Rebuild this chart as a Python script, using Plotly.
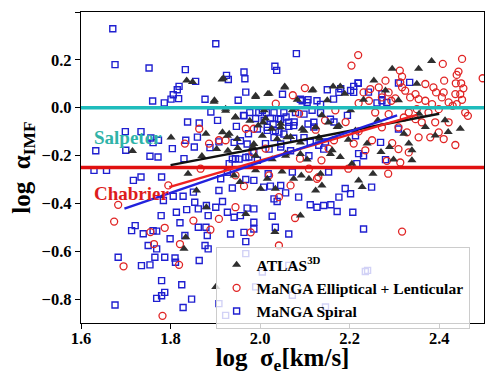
import plotly.graph_objects as go

# ---------------- data ----------------
spiral_x = [1.633,1.671,1.676,1.699,1.700,1.734,1.752,1.754,1.756,1.760,1.761,1.772,1.773,1.786,1.801,1.804,1.806,1.815,1.818,1.819,
            1.830,1.833,1.834,1.838,1.853,1.856,1.860,1.864,1.877,1.888,1.890,1.901,1.905,1.908,1.925,1.929,1.931,1.945,1.947,1.951,
            1.963,1.964,1.966,1.968,1.974,1.975,1.994,2.005,2.009,2.012,2.016,2.031,2.033,2.037,2.041,2.042,2.046,2.050,2.058,2.064,
            2.076,2.081,2.090,2.098,2.107,2.116,2.120,2.131,2.135,2.146,2.150,2.165,2.180,2.195,2.202,2.209,2.216,2.219,2.220,2.242,
            2.261,2.272,2.280,2.309,
            1.964,1.977,1.990,1.997,2.014,2.023,2.031,2.029,2.046,2.053,2.064,2.075,2.079,2.098,2.107,2.120,2.135,1.994,2.016,2.034,
            2.053,1.942,1.956,1.971,1.938,1.953,1.968,1.986,2.020,2.046,2.068,2.075,2.112,2.142,2.109,2.157,2.176,2.164,2.094,2.105,2.127,
            2.219,2.209,2.334,2.272,2.283,2.309,2.269,2.213,2.231,
            2.202,2.207,2.231,2.249,2.235,
            1.629,1.657,1.717,1.734,1.780,1.784,1.806,1.828,1.851,1.854,1.862,1.880,1.884,1.813,1.836,1.779,1.821,1.721,1.713,1.739,
            1.761,1.769,1.799,1.750,1.769,1.832,1.862,1.879,1.882,1.877,1.884,1.683,1.735,1.754,1.765,1.787,1.810,1.811,1.864,1.780,
            1.825,1.787,1.780,1.769,1.847,1.676,1.828,
            1.908,1.916,1.938,1.968,1.986,2.008,2.023,2.046,2.057,2.031,2.038,2.086,2.112,2.127,2.142,2.158,2.172,2.176,1.927,1.942,
            1.956,1.971,1.986,2.027,1.986,1.986,2.034,2.064,1.934,1.964,1.968,1.901,1.927,1.912,2.018,2.072,2.153,2.190,
            1.908,1.968,1.990,2.005,2.064,2.072,2.146,2.240,1.923]
spiral_y = [-0.180,0.330,0.180,-0.100,-0.178,-0.100,0.166,-0.203,-0.127,0.028,-0.146,-0.206,-0.136,0.020,0.036,-0.171,0.054,0.075,0.038,0.089,
            -0.213,0.159,-0.136,-0.060,-0.164,0.110,-0.123,-0.064,0.035,-0.167,-0.018,0.267,-0.053,-0.143,0.135,0.118,-0.234,-0.213,-0.078,0.031,
            -0.032,0.149,0.121,0.065,-0.109,-0.206,-0.220,-0.011,-0.053,-0.150,-0.095,-0.125,0.173,0.156,-0.046,-0.102,-0.164,0.056,-0.039,-0.078,
            -0.060,0.226,0.035,-0.125,0.033,-0.011,-0.081,-0.157,0.014,-0.143,0.075,-0.060,0.079,-0.032,0.072,0.089,-0.234,0.103,-0.192,0.065,
            0.020,0.058,-0.217,0.103,
            -0.034,-0.020,-0.045,-0.020,-0.020,-0.045,-0.020,-0.068,-0.048,-0.020,-0.061,-0.075,-0.020,-0.027,-0.068,-0.061,-0.020,-0.089,-0.082,-0.096,
            -0.110,-0.145,-0.138,-0.152,-0.215,-0.215,-0.208,-0.187,-0.173,-0.152,-0.180,-0.128,-0.145,-0.173,-0.201,-0.048,0.064,0.036,0.029,0.022,0.029,
            0.102,0.064,0.106,0.029,0.022,-0.089,-0.145,-0.117,-0.201,
            -0.360,-0.437,-0.507,-0.332,-0.685,
            -0.262,-0.262,-0.304,-0.290,-0.290,-0.388,-0.370,-0.370,-0.353,-0.395,-0.423,-0.409,-0.451,-0.437,-0.426,-0.451,-0.481,-0.493,-0.514,-0.527,
            -0.514,-0.516,-0.548,-0.576,-0.590,-0.534,-0.500,-0.500,-0.534,-0.576,-0.590,-0.625,-0.660,-0.657,-0.625,-0.625,-0.628,-0.646,-0.639,-0.723,
            -0.740,-0.772,-0.786,-0.797,-0.800,-0.825,-0.835,
            -0.346,-0.392,-0.336,-0.300,-0.304,-0.332,-0.328,-0.325,-0.356,-0.381,-0.392,-0.374,-0.406,-0.416,-0.409,-0.406,-0.434,-0.374,-0.437,-0.458,
            -0.451,-0.420,-0.423,-0.454,-0.479,-0.507,-0.500,-0.528,-0.528,-0.521,-0.560,-0.416,-0.270,-0.297,-0.276,-0.269,-0.269,-0.338,
            -0.819,-0.610,-0.749,-0.687,-0.659,-0.784,-0.833,-0.680,-0.868]

etg_x = [2.219,2.204,2.312,2.317,2.313,2.317,2.280,2.265,2.272,2.287,2.293,2.302,2.324,2.335,2.347,2.369,2.387,2.393,2.408,2.411,
         2.410,2.421,2.436,2.437,2.439,2.443,2.451,2.449,2.454,2.447,2.451,2.439,2.458,2.464,2.497,2.399,2.384,2.376,2.361,2.347,
         2.332,2.321,2.309,2.328,2.354,2.380,2.399,2.410,2.436,2.421,2.309,2.295,2.272,2.257,2.243,2.231,2.246,2.220,2.287,2.350,
         2.369,2.354,2.391,2.332,2.283,2.313,2.406,2.430,
         1.832,1.864,1.886,1.867,
         1.908,1.923,1.968,1.983,1.986,2.012,2.035,2.073,2.087,2.089,2.100,2.124,2.137,2.145,2.153,2.165,2.168,2.191,2.209,2.235,
         2.250,2.220,2.197,2.130,2.109,1.945,2.020,
         1.683,1.674,1.755,1.763,1.787,1.795,1.821,1.819,1.695,1.782,1.851,1.889,
         1.908,1.945,1.964,1.979,2.042,2.068,2.078,2.042,2.127,
         2.286,2.317]
etg_y = [0.220,0.176,0.155,0.130,0.106,0.085,0.113,0.085,0.043,0.064,0.029,0.039,0.071,0.043,0.057,0.099,0.085,0.064,0.183,0.113,
         0.064,0.022,0.057,0.102,0.137,0.151,0.204,0.102,0.081,0.057,0.033,0.015,-0.020,-0.034,0.123,-0.006,0.015,-0.020,-0.061,-0.048,
         -0.020,-0.041,-0.082,-0.103,-0.124,-0.124,-0.103,-0.131,-0.156,-0.061,-0.173,-0.148,-0.082,-0.020,0.029,0.064,0.078,0.019,-0.027,-0.006,
         0.029,0.036,-0.061,-0.187,-0.222,-0.229,0.043,0.008,
         -0.150,-0.088,-0.150,-0.255,
         -0.136,-0.136,-0.088,-0.185,-0.088,-0.171,0.017,0.052,-0.025,-0.213,0.082,-0.092,-0.220,-0.053,-0.171,-0.136,-0.011,-0.060,-0.150,-0.178,
         -0.136,-0.099,-0.255,-0.290,-0.255,-0.283,-0.283,
         -0.406,-0.476,-0.520,-0.570,-0.502,-0.325,-0.570,-0.657,-0.663,-0.870,-0.472,-0.510,
         -0.465,-0.416,-0.328,-0.521,-0.374,-0.325,-0.461,-0.576,-0.297,
         -0.276,-0.518]

atlas_x = [1.715,1.801,1.836,1.849,1.870,1.879,1.898,1.915,1.923,1.931,1.945,1.950,1.984,1.990,1.996,2.009,2.020,2.026,2.046,2.055,
           2.057,2.068,2.072,2.083,2.094,2.105,2.116,2.133,2.138,2.150,2.161,2.163,2.172,2.179,2.189,2.197,2.202,2.205,2.213,2.231,
           2.239,2.254,2.263,2.270,2.280,2.295,2.298,2.309,2.321,2.332,2.339,2.350,2.354,2.355,2.369,2.383,2.391,2.413,2.420,2.447,
           2.339,2.289,
           1.918,1.990,2.017,2.055,2.118,2.179,1.945,1.977,2.007,2.012,2.046,2.098,2.124,2.153,2.176,1.927,1.949,1.986,2.005,2.038,
           2.060,2.090,2.131,1.916,1.903,1.928,1.990,2.027,2.057,2.090,2.157,1.897,1.923,
           1.942,1.955,1.990,2.016,2.001,2.034,2.049,2.075,2.092,2.109,2.124,2.135,2.138,2.090,2.033,1.968,
           1.858,1.834,1.830,1.880,1.839,1.901,2.220,2.228,2.252]
atlas_y = [-0.181,-0.125,0.114,0.107,-0.202,-0.109,0.031,0.118,-0.004,-0.109,-0.039,-0.169,-0.164,0.045,-0.074,-0.011,0.058,-0.088,-0.067,0.084,
           -0.192,-0.123,-0.011,0.033,-0.088,-0.217,0.072,-0.130,-0.032,0.031,-0.178,0.089,-0.081,-0.206,0.058,-0.134,-0.011,-0.234,-0.095,0.033,
           -0.150,0.114,-0.053,-0.185,0.072,0.163,-0.217,0.031,-0.109,-0.150,-0.220,0.100,0.163,-0.025,-0.081,0.195,-0.116,-0.053,-0.102,-0.088,
           -0.178,-0.164,
           0.123,0.050,0.057,0.089,0.075,0.089,-0.041,-0.055,-0.062,-0.045,-0.082,-0.096,-0.082,-0.062,-0.075,-0.117,-0.131,-0.152,-0.117,-0.131,
           -0.124,-0.145,-0.124,-0.103,-0.173,-0.180,-0.201,-0.215,-0.201,-0.194,-0.194,0.025,-0.013,
           -0.283,-0.311,-0.262,-0.297,-0.339,-0.339,-0.267,-0.297,-0.283,-0.297,-0.346,-0.276,-0.325,-0.451,-0.520,-0.444,
           -0.346,-0.542,-0.590,-0.416,-0.276,-0.749,-0.304,-0.331,-0.276]

fit_atlas_x = [1.80, 2.40]
fit_atlas_y = [-0.24, -0.025]
fit_etg_x = [1.797, 2.35]
fit_etg_y = [-0.332, -0.03]
fit_spiral_x = [1.697, 2.306]
fit_spiral_y = [-0.422, -0.032]

salpeter_level = 0.0
chabrier_level = -0.25

x_ticks = [1.6, 1.8, 2.0, 2.2, 2.4]
y_ticks = [0.4, 0.2, 0.0, -0.2, -0.4, -0.6, -0.8]
y_tick_text = ["0.4", "0.2", "0.0", "\u22120.2", "\u22120.4", "\u22120.6", "\u22120.8"]

# ---------------- figure ----------------
SERIF = "Liberation Serif"
fig = go.Figure()

fig.add_trace(go.Scatter(x=spiral_x, y=spiral_y, mode="markers", name="MaNGA Spiral",
                         legendrank=3,
                         marker=dict(symbol="square-open", size=6, color="#1f1fd0", line=dict(width=1.4))))
fig.add_trace(go.Scatter(x=etg_x, y=etg_y, mode="markers", name="MaNGA Elliptical + Lenticular",
                         legendrank=2,
                         marker=dict(symbol="circle-open", size=7, color="#e02424", line=dict(width=1.3))))
fig.add_trace(go.Scatter(x=atlas_x, y=atlas_y, mode="markers", name="ATLAS<sup>3D</sup>",
                         legendrank=1,
                         marker=dict(symbol="triangle-up", size=8, color="#2f2f2f")))

# reference IMF levels
fig.add_trace(go.Scatter(x=[1.6, 2.5], y=[salpeter_level, salpeter_level], mode="lines",
                         line=dict(color="#1fbcbc", width=3.5), showlegend=False, hoverinfo="skip"))
fig.add_trace(go.Scatter(x=[1.6, 2.5], y=[chabrier_level, chabrier_level], mode="lines",
                         line=dict(color="#e01010", width=3.5), showlegend=False, hoverinfo="skip"))

# fit lines
fig.add_trace(go.Scatter(x=fit_atlas_x, y=fit_atlas_y, mode="lines",
                         line=dict(color="#111111", width=2.5), showlegend=False))
fig.add_trace(go.Scatter(x=fit_etg_x, y=fit_etg_y, mode="lines",
                         line=dict(color="#ee2222", width=2.5), showlegend=False))
fig.add_trace(go.Scatter(x=fit_spiral_x, y=fit_spiral_y, mode="lines",
                         line=dict(color="#2222dd", width=2.5), showlegend=False))

fig.add_annotation(x=1.624, y=-0.124, text="Salpeter", showarrow=False, xanchor="left", yanchor="middle",
                   font=dict(family=SERIF, size=19, color="#2fb3a8", weight="bold"))
fig.add_annotation(x=1.624, y=-0.358, text="Chabrier", showarrow=False, xanchor="left", yanchor="middle",
                   font=dict(family=SERIF, size=19, color="#dd1c1c", weight="bold"))

axis_common = dict(showgrid=False, zeroline=False, showline=True, linecolor="black", linewidth=1.3,
                   mirror=True, ticks="outside", ticklen=5, tickwidth=1.2, tickcolor="black",
                   automargin=False,
                   tickfont=dict(family=SERIF, size=16.5, color="black", weight="bold"))

fig.update_xaxes(range=[1.6, 2.5], tickvals=x_ticks, ticktext=[f"{v:.1f}" for v in x_ticks],
                 ticklabelstandoff=-5,
                 title=dict(text="log  σ<sub>e</sub>[km/s]",
                            font=dict(family=SERIF, size=25, color="black", weight="bold")),
                 **axis_common)
fig.update_yaxes(range=[-0.9, 0.4], tickvals=y_ticks, ticktext=y_tick_text,
                 title=dict(text="log  α<sub>IMF</sub>",
                            font=dict(family=SERIF, size=25, color="black", weight="bold")),
                 **axis_common)

# the page body adds an 8px margin, so the figure is sized to fit the window
fig.update_layout(
    width=492, height=367,
    margin=dict(l=73, r=16, t=4, b=52),
    paper_bgcolor="white", plot_bgcolor="white",
    showlegend=True,
    legend=dict(x=0.334, y=0.244, xanchor="left", yanchor="top",
                bgcolor="rgba(255,255,255,0.8)", bordercolor="#cccccc", borderwidth=1,
                font=dict(family=SERIF, size=15.5, color="black", weight="bold"),
                tracegroupgap=0),
)

fig.write_html("out.html")
